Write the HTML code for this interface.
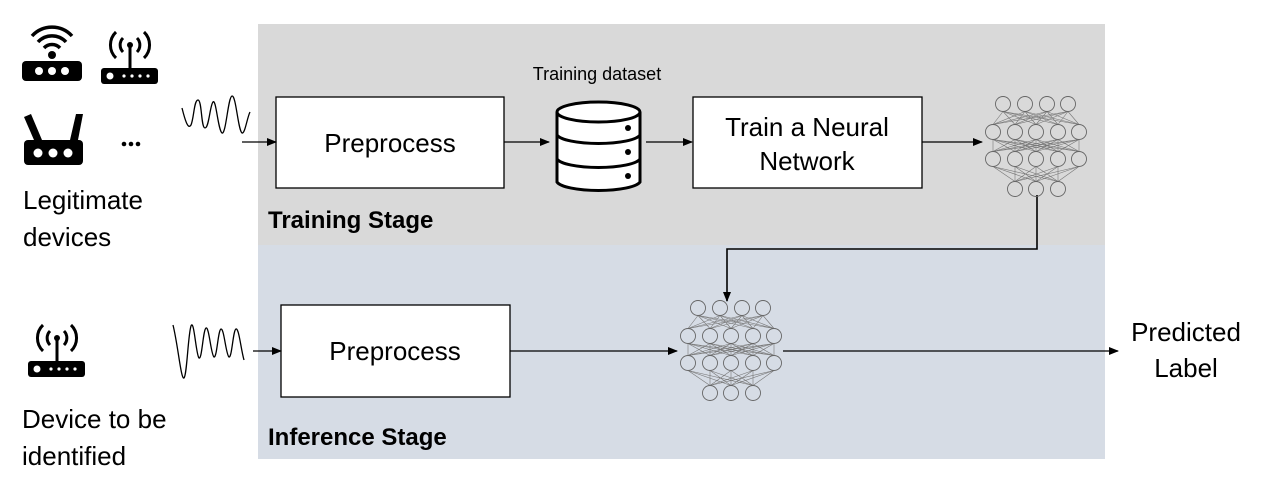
<!DOCTYPE html>
<html><head><meta charset="utf-8"><style>
body{margin:0;width:1267px;height:486px;background:#fff;overflow:hidden}
svg text{font-family:"Liberation Sans",sans-serif}
</style></head><body>
<svg width="1267" height="486" viewBox="0 0 1267 486" xmlns="http://www.w3.org/2000/svg">
<defs>
<marker id="ar" markerWidth="10" markerHeight="8" refX="9" refY="4" orient="auto" markerUnits="userSpaceOnUse"><path d="M0,0 L10,4 L0,8 z" fill="#000"/></marker>
</defs>
<rect x="258" y="24" width="847" height="221" fill="#d9d9d9"/>
<rect x="258" y="245" width="847" height="214" fill="#d6dce5"/>

<rect x="276" y="97" width="228" height="91" fill="#fff" stroke="#000" stroke-width="1.3"/>
<text x="390" y="152" font-size="26" text-anchor="middle">Preprocess</text>
<rect x="693" y="97" width="229" height="91" fill="#fff" stroke="#000" stroke-width="1.3"/>
<text x="807" y="136" font-size="26" text-anchor="middle">Train a Neural</text>
<text x="807" y="170" font-size="26" text-anchor="middle">Network</text>
<text x="597" y="80" font-size="18" text-anchor="middle">Training dataset</text>

<g fill="#fff" stroke="#000" stroke-width="3">
<path d="M557,112 L557,182 A42,10 0 0 0 640,182 L640,112"/>
<ellipse cx="598.5" cy="112" rx="41.5" ry="10"/>
<path d="M557,135 A42,10 0 0 0 640,135" fill="none"/>
<path d="M557,159 A42,10 0 0 0 640,159" fill="none"/>
</g>
<circle cx="628" cy="128" r="3" fill="#000"/><circle cx="628" cy="152" r="3" fill="#000"/><circle cx="628" cy="176" r="3" fill="#000"/>

<g stroke="#000" stroke-width="1.3" fill="none" marker-end="url(#ar)">
<line x1="242" y1="142" x2="276" y2="142"/>
<line x1="504" y1="142" x2="549" y2="142"/>
<line x1="646" y1="142" x2="692" y2="142"/>
<line x1="922" y1="142" x2="982" y2="142"/>
</g>
<path d="M1037,195 V249 H727 V301" stroke="#000" stroke-width="1.6" fill="none" marker-end="url(#ar)"/>

<text x="268" y="228" font-size="24" font-weight="bold">Training Stage</text>
<text x="268" y="445" font-size="24" font-weight="bold">Inference Stage</text>

<rect x="281" y="305" width="229" height="92" fill="#fff" stroke="#000" stroke-width="1.3"/>
<text x="395" y="360" font-size="26" text-anchor="middle">Preprocess</text>
<g stroke="#000" stroke-width="1.3" fill="none" marker-end="url(#ar)">
<line x1="253" y1="351" x2="281" y2="351"/>
<line x1="510" y1="351" x2="677" y2="351"/>
<line x1="783" y1="351" x2="1118" y2="351"/>
</g>
<text x="1186" y="341" font-size="26" text-anchor="middle">Predicted</text>
<text x="1186" y="377" font-size="26" text-anchor="middle">Label</text>

<g id="nets"></g>

<path d="M182,108 C185,120 188,130 191,125 C194,118 194,100 198,100 C202,100 201,128 205,128 C209,128 210,105 213,102 C216,98 218,130 222,133 C226,135 228,97 232,96 C236,95 238,130 242,133 C245,134 247,118 250,112" stroke="#000" stroke-width="1.3" fill="none"/>
<path d="M173,325 C178,345 181,380 184,378 C187,375 188,335 191,326 C194,318 196,355 199,358 C202,360 203,330 206,328 C209,326 211,355 214,357 C217,358 218,330 221,329 C224,328 226,355 229,357 C232,358 233,330 236,329 C239,328 241,350 244,360" stroke="#000" stroke-width="1.3" fill="none"/>

<g fill="#000">
<rect x="22" y="61" width="60" height="20" rx="4"/>
<circle cx="39" cy="71" r="4" fill="#fff"/><circle cx="52" cy="71" r="4" fill="#fff"/><circle cx="65" cy="71" r="4" fill="#fff"/>
<circle cx="52" cy="55" r="4"/>
</g>
<g fill="none" stroke="#000" stroke-width="3.5">
<path d="M44,48 A11,11 0 0 1 60,48"/><path d="M38,42 A19,19 0 0 1 66,42"/><path d="M32,36 A27,27 0 0 1 72,36"/>
</g>
<g id="ant">
<rect x="101" y="68" width="57" height="16" rx="3" fill="#000"/>
<circle cx="110" cy="76" r="3.5" fill="#fff"/>
<circle cx="124" cy="76" r="1.6" fill="#fff"/><circle cx="132" cy="76" r="1.6" fill="#fff"/><circle cx="140" cy="76" r="1.6" fill="#fff"/><circle cx="148" cy="76" r="1.6" fill="#fff"/>
<line x1="130" y1="45" x2="130" y2="68" stroke="#000" stroke-width="3"/>
<circle cx="130" cy="45" r="3" fill="#000"/>
<g fill="none" stroke="#000" stroke-width="3">
<path d="M123,38 A10,10 0 0 0 123,52"/><path d="M137,38 A10,10 0 0 1 137,52"/>
<path d="M116,32 A18,18 0 0 0 116,58"/><path d="M144,32 A18,18 0 0 1 144,58"/>
</g>
</g>
<use href="#ant" transform="translate(-73,293)"/>
<g fill="#000">
<rect x="24" y="140" width="59" height="25" rx="4"/>
<circle cx="38" cy="153" r="4.5" fill="#fff"/><circle cx="53" cy="153" r="4.5" fill="#fff"/><circle cx="68" cy="153" r="4.5" fill="#fff"/>
<polygon points="24,117 31,114 42,140 34,140"/><polygon points="83,114 76,114 70,140 78,140"/>
</g>
<g fill="#000"><circle cx="124" cy="144" r="2.3"/><circle cx="131" cy="144" r="2.3"/><circle cx="138" cy="144" r="2.3"/></g>

<text x="23" y="209" font-size="26">Legitimate</text>
<text x="23" y="246" font-size="26">devices</text>
<text x="22" y="428" font-size="26">Device to be</text>
<text x="22" y="465" font-size="26">identified</text>
</svg>
<script>
(function(){
var rows=[[[698,720,742,763],308],[[688,710,731,753,774],336],[[688,710,731,753,774],363],[[710,731,753],393]];
var r=7.5;
function net(dx,dy){
 var o='<g stroke="#777" stroke-width="0.6" fill="none">';
 for(var i=0;i<3;i++){var a=rows[i],b=rows[i+1];
  a[0].forEach(function(x1){b[0].forEach(function(x2){o+='<line x1="'+(x1+dx)+'" y1="'+(a[1]+r+dy)+'" x2="'+(x2+dx)+'" y2="'+(b[1]-r+dy)+'"/>';});});}
 o+='</g><g stroke="#666" stroke-width="0.9" fill="none">';
 rows.forEach(function(rw){rw[0].forEach(function(x){o+='<circle cx="'+(x+dx)+'" cy="'+(rw[1]+dy)+'" r="'+r+'"/>';});});
 return o+'</g>';
}
document.getElementById('nets').innerHTML=net(0,0)+net(305,-204);
})();
</script>
</body></html>
